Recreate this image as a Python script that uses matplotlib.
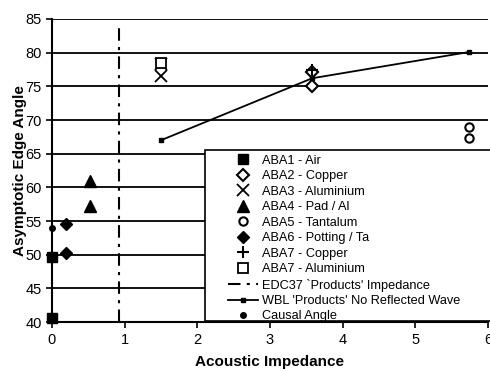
import matplotlib
matplotlib.use("Agg")
import matplotlib.pyplot as plt
from matplotlib.patches import Rectangle

plt.rcParams['font.family'] = ['Liberation Sans', 'DejaVu Sans']

# measured points (acoustic impedance, asymptotic edge angle)
aba1_x, aba1_y = [0.0, 0.0], [40.6, 49.7]
aba2_x, aba2_y = [3.58, 3.58], [77.2, 75.0]
aba3_x, aba3_y = [1.5, 1.5], [78.3, 76.6]
aba4_x, aba4_y = [0.52, 0.52], [60.9, 57.3]
aba5_x, aba5_y = [5.74, 5.74], [68.9, 67.3]
aba6_x, aba6_y = [0.2, 0.2], [54.6, 50.3]
aba7cu_x, aba7cu_y = [3.58], [77.5]
aba7al_x, aba7al_y = [1.5], [78.5]
causal_x, causal_y = [0.0], [54.0]

edc37_x = 0.92
edc37_y = [40, 84]

wbl_x = [1.5, 3.58, 5.74]
wbl_y = [67.0, 76.2, 80.1]

W, H = 490, 372
fig = plt.figure(figsize=(W / 100, H / 100), dpi=100)
ax = fig.add_axes([0.106, 0.134, 0.89, 0.815])

for y in range(45, 90, 5):
    ax.axhline(y, color='black', lw=1.3, zorder=1)

ax.plot([edc37_x, edc37_x], edc37_y, color='black', lw=1.5, ls=(0, (6, 3, 1.5, 3)),
        label="EDC37 `Products' Impedance", zorder=2)
ax.plot(wbl_x, wbl_y, color='black', lw=1.3, marker='s', ms=2.5,
        label="WBL 'Products' No Reflected Wave", zorder=2)

ms = 7
ax.plot(aba1_x, aba1_y, 's', color='black', ms=ms, label='ABA1 - Air', clip_on=False, zorder=3)
ax.plot(aba2_x, aba2_y, 'D', mfc='white', mec='black', mew=1.5, ms=6, label='ABA2 - Copper', zorder=3)
ax.plot(aba3_x, aba3_y, 'x', color='black', mew=1.3, ms=8, label='ABA3 - Aluminium', zorder=3)
ax.plot(aba4_x, aba4_y, '^', color='black', ms=8, label='ABA4 - Pad / Al', zorder=3)
ax.plot(aba5_x, aba5_y, 'o', mfc='white', mec='black', mew=1.5, ms=6, label='ABA5 - Tantalum', zorder=3)
ax.plot(aba6_x, aba6_y, 'D', color='black', ms=6, label='ABA6 - Potting / Ta', zorder=3)
ax.plot(aba7cu_x, aba7cu_y, '+', color='black', mew=1.5, ms=9, label='ABA7 - Copper', zorder=3)
ax.plot(aba7al_x, aba7al_y, 's', mfc='white', mec='black', mew=1.3, ms=7, label='ABA7 - Aluminium', zorder=3)
ax.plot(causal_x, causal_y, 'o', color='black', ms=4, label='Causal Angle', clip_on=False, zorder=3)

ax.set_xlim(0, 6)
ax.set_ylim(40, 85)
ax.set_xticks(range(0, 7))
ax.set_yticks(range(40, 90, 5))
ax.tick_params(labelsize=10.5, length=4, width=1.2)
ax.spines['top'].set_visible(False)
ax.spines['right'].set_visible(False)
ax.spines['left'].set_linewidth(1.5)
ax.spines['bottom'].set_linewidth(1.5)

ax.set_xlabel('Acoustic Impedance', fontsize=11, fontweight='bold', labelpad=6)
ax.set_ylabel('Asymptotic Edge Angle', fontsize=11, fontweight='bold', labelpad=-1)

# legend box (drawn separately so it can run past the right edge)
fig.patches.append(Rectangle((205 / W, 1 - 321 / H), 300 / W, 171 / H,
                             transform=fig.transFigure, facecolor='white',
                             edgecolor='black', lw=1.2, zorder=4))

handles, labels = ax.get_legend_handles_labels()
order = [2, 3, 4, 5, 6, 7, 8, 9, 0, 1, 10]
leg = fig.legend([handles[i] for i in order], [labels[i] for i in order],
                 loc='lower left', bbox_to_anchor=(225 / W, 1 - 325 / H),
                 bbox_transform=fig.transFigure,
                 fontsize=9.2, frameon=False, borderaxespad=0,
                 labelspacing=0.27, handlelength=2.42, handletextpad=0.25,
                 borderpad=0.2)
leg.set_zorder(5)

fig.savefig('out.png', dpi=100)
